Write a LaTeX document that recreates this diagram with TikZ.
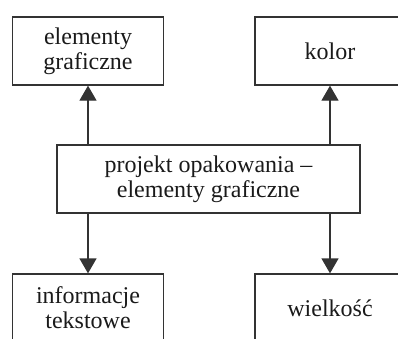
\documentclass[tikz,border=0pt]{standalone}
\usepackage{fontspec}
\setmainfont{Liberation Serif}
\usetikzlibrary{arrows.meta}
\definecolor{cline}{HTML}{333333}
\definecolor{ctext}{HTML}{1A1A1A}

\begin{document}
\begin{tikzpicture}[x=1pt, y=-1pt,
  font=\fontsize{24}{25}\selectfont, text=ctext,
  box/.style={draw=cline, line width=1.3pt, minimum width=151pt, minimum height=68pt, inner sep=0pt, align=center},
  arr/.style={-{Triangle[width=17pt, length=15pt]}, draw=cline, fill=cline, line width=1.3pt}]
  \useasboundingbox (0,0) rectangle (398,338);
  \clip (0,0) rectangle (398,338);
  % the central box
  \node[box, minimum width=303pt] (proj) at (208.5,179) {projekt opakowania --\\elementy graficzne};
  % four features round it
  \node[box] (gfx) at (88,51) {elementy\\graficzne};
  \node[box, minimum width=150pt] (kol) at (330,51) {kolor};
  \node[box] (info) at (88,308) {informacje\\tekstowe};
  \node[box, minimum width=150pt] (size) at (330,308) {wielkość};
  % arrows
  \draw[arr] (proj.north -| gfx.south) -- (gfx.south);
  \draw[arr] (proj.north -| kol.south) -- (kol.south);
  \draw[arr] (proj.south -| info.north) -- (info.north);
  \draw[arr] (proj.south -| size.north) -- (size.north);
\end{tikzpicture}
\end{document}
